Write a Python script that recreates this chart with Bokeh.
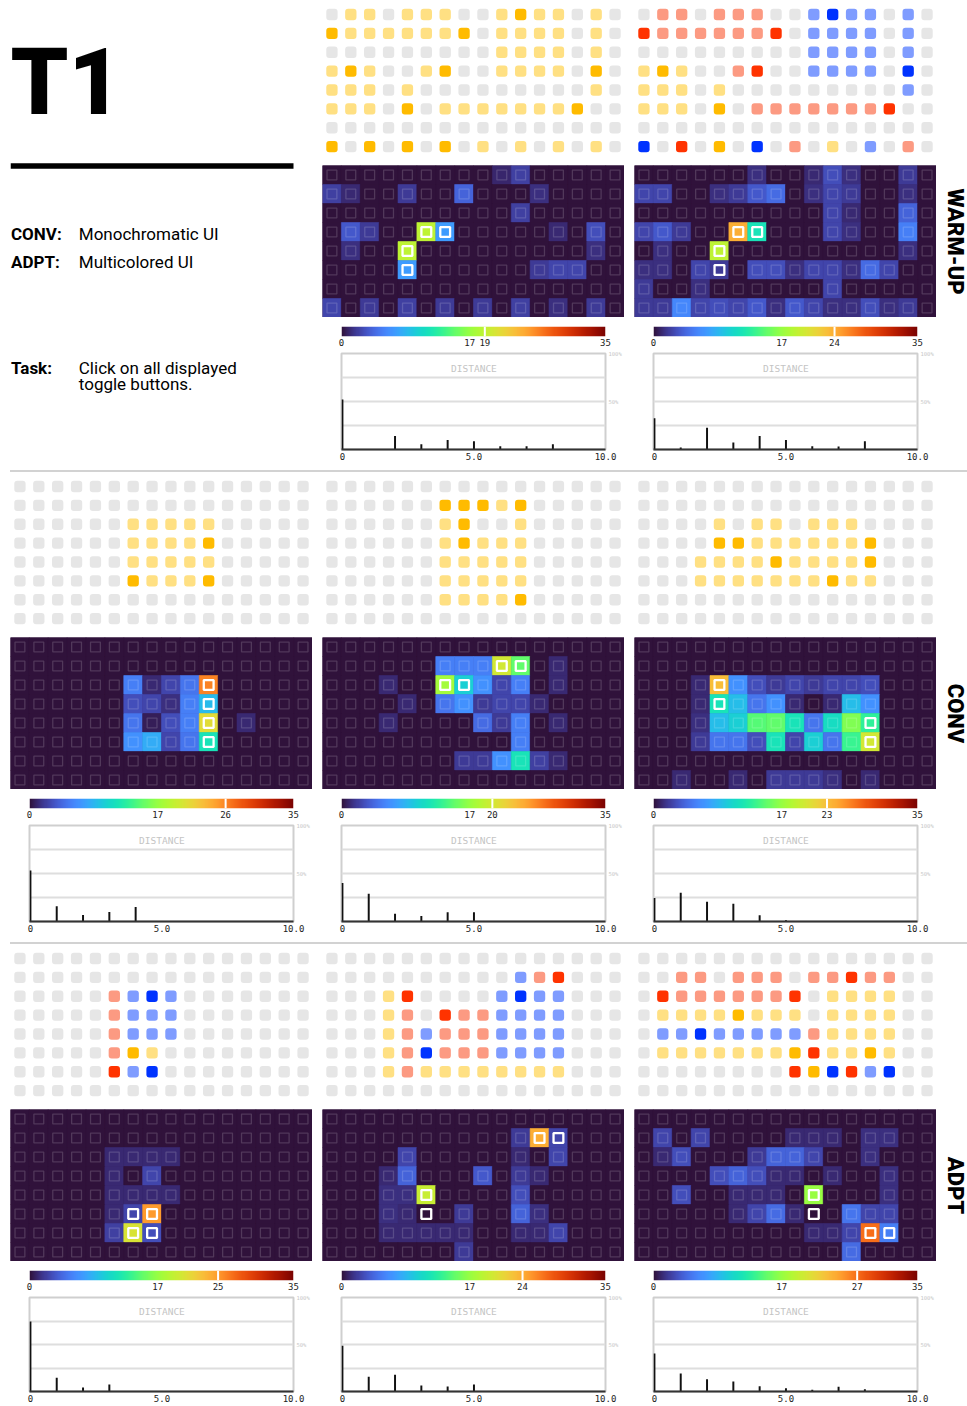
import numpy as np
from bokeh.plotting import figure
from bokeh.layouts import column, row
from bokeh.models import (Range1d, Spacer, LinearAxis, FixedTicker, Grid, Span, Label, Div,
                          LinearColorMapper, ColumnDataSource)
from bokeh.palettes import Turbo256
from bokeh.core.properties import value
from bokeh.embed import file_html
from bokeh.resources import INLINE

# ---------------------------------------------------------------- data
GRID_COLS = 16
GRID_ROWS = 8
SCALE_LOW, SCALE_HIGH, SCALE_MID = 0, 35, 17
DIST_TICKS = [0, 5, 10]
DIST_LABELS = {0: "0", 5: "5.0", 10: "10.0"}
PCT_TICKS = [50, 100]
PCT_LABELS = {50: "50%", 100: "100%"}
PCT_GRID = [25, 50, 75]
ROW_NAMES = ["WARM-UP", "CONV", "ADPT"]

STATE_COLORS = {"g": "#e6e6e6", "y": "#ffe083", "Y": "#ffbb00",
                "r": "#fc9a82", "R": "#ff3300", "b": "#7f9cff", "B": "#0033ff"}

# UI button states: one string per grid row, one letter per button
ui_warmup_conv = ["gyygyyyggyYyygyg", "YyyyyyyYgyyyygyg", "gggggggggyyyygyg", "yYyggyYggyyyygYg",
                  "yyygygggggggggyg", "yyygYgyyyyyyyYgg", "gggggggggggggggg", "YgYgYgYgygygygyg"]
ui_warmup_adpt = ["grrgrrrggbBbbgbg", "RrrrrrrRgbbbbgbg", "gggggggggbbbbgbg", "yYyggrRggbbbbgBg",
                  "yyygygggggggggbg", "yyygYgrrrrrrrRgg", "gggggggggggggggg", "BgRgYgBgrgygbgrg"]
ui_conv_1 = ["gggggggggggggggg", "gggggggggggggggg", "ggggggyyyyyggggg", "ggggggyyyyYggggg",
             "ggggggyyyyyggggg", "ggggggYyyyYggggg", "gggggggggggggggg", "gggggggggggggggg"]
ui_conv_2 = ["gggggggggggggggg", "ggggggYYYyYggggg", "ggggggyYggyggggg", "ggggggyYyyyggggg",
             "ggggggyyyyyggggg", "ggggggyyyyyggggg", "ggggggyyyyYggggg", "gggggggggggggggg"]
ui_conv_3 = ["gggggggggggggggg", "gggggggggggggggg", "ggggygyygyyygggg", "ggggYYyyyyyyYggg",
             "gggyyyyYyyyyYggg", "gggyyyyyyyYyyggg", "gggggggggggggggg", "gggggggggggggggg"]
ui_adpt_1 = ["gggggggggggggggg", "gggggggggggggggg", "gggggrbBbggggggg", "gggggrbbbggggggg",
             "gggggrbbbggggggg", "gggggrYygggggggg", "gggggRbBgggggggg", "gggggggggggggggg"]
ui_adpt_2 = ["gggggggggggggggg", "ggggggggggbrRggg", "gggyRggggbBbbggg", "gggyrgRrrbbbbggg",
             "gggyrbrrrbbbbggg", "gggyrBrrrbbbbggg", "gggyryyyyyyyyggg", "gggggggggggggggg"]
ui_adpt_3 = ["gggggggggggggggg", "ggrrgrrrgrrRrrgg", "gRrrrrrrRgyyyygg", "gyyyyYyyygyyyygg",
             "gbbBbbbbbryyyygg", "gyyyyyyyYRyyYygg", "ggggggggRYBRbBgg", "gggggggggggggggg"]

# click heat values (0..35) per button
Z = [0] * 16
heat_warmup_conv = [
    [0, 0, 0, 0, 0, 0, 0, 0, 0, 1, 2.2, 0, 0, 0, 0, 0],
    [2.2, 1.2, 0, 0, 2, 0, 0, 4, 0, 0, 0, 1.5, 0, 0, 0, 0],
    [0, 0, 0, 0, 0, 0, 0, 0, 0, 0, 2.2, 0, 0, 0, 0, 0],
    [0, 3.5, 2, 0, 0, 19, 7, 0, 0, 0, 0, 0, 1.2, 0, 3, 0],
    [0, 1.5, 0, 0, 19, 0, 0, 0, 0, 0, 0, 0, 0, 0, 1.5, 0],
    [0, 0, 0, 0, 7, 0, 0, 0, 0, 0, 0, 2, 2.5, 2.5, 0, 0],
    Z,
    [2.5, 0, 2, 0, 2.2, 0, 2, 0, 2, 0, 2.2, 0, 1.5, 0, 2, 0]]
heat_warmup_adpt = [
    [0, 0, 0, 0, 0, 0, 1.5, 0, 0, 1.2, 3, 1.5, 0, 0, 2, 0],
    [2.5, 2.5, 0, 0, 1.5, 2, 3.5, 4.5, 0, 1.5, 2.5, 2, 0, 0, 1.5, 0],
    [0, 0, 0, 0, 0, 0, 0, 0, 0, 0, 2.5, 1.2, 0, 0, 4, 0],
    [2.5, 3.5, 2, 0, 0, 24, 11.5, 0, 0, 0, 2.5, 1.5, 0, 0, 5.5, 0],
    [0, 1.5, 0, 0, 19, 0, 0, 0, 0, 0, 0, 0, 0, 0, 1.5, 0],
    [1.5, 1.5, 0, 2.5, 2, 0, 3, 3, 1.5, 2.5, 2.5, 1.5, 4.5, 2.5, 0, 0],
    [2, 0, 0, 1.5, 0, 0, 0, 0, 0, 0, 2.5, 0, 0, 0, 0, 0],
    [2, 2, 6, 2.5, 3, 2.5, 3.5, 1.5, 3.5, 2.5, 1.5, 1.5, 3, 1.5, 2, 0]]
heat_conv_1 = [
    Z, Z,
    [0, 0, 0, 0, 0, 0, 5.5, 1.2, 2.5, 5, 26, 0, 0, 0, 0, 0],
    [0, 0, 0, 0, 0, 0, 3, 2.5, 1.5, 5.5, 8.8, 0, 0, 0, 0, 0],
    [0, 0, 0, 0, 0, 0, 5, 0.6, 3, 5.5, 21, 0, 1.2, 0, 0, 0],
    [0, 0, 0, 0, 0, 0, 6.5, 8, 2.5, 5, 11.5, 0, 0, 0, 0, 0],
    Z, Z]
heat_conv_2 = [
    Z,
    [0, 0, 0, 0, 0, 0, 5.5, 5.5, 5.5, 20, 15, 0, 1.2, 0, 0, 0],
    [0, 0, 0, 1.2, 0, 0, 17.5, 10, 6.5, 2.5, 5.5, 0, 1.2, 0, 0, 0],
    [0, 0, 0, 0, 1.2, 0, 5, 6.5, 2, 2.5, 2.5, 1.2, 0, 0, 0, 0],
    [0, 0, 0, 1.2, 0, 0, 0, 0, 4.5, 2, 5.5, 0, 1.2, 0, 0, 0],
    [0, 0, 0, 0, 0, 0, 0, 0, 0, 0, 5.5, 0, 0, 0, 0, 0],
    [0, 0, 0, 0, 0, 0, 0, 2, 2, 6.5, 11.5, 2.2, 1.2, 0, 0, 0],
    Z]
heat_conv_3 = [
    Z, Z,
    [0, 0, 0, 1.2, 23, 6.5, 3, 2, 2.5, 2, 2.5, 2.5, 3, 0, 0, 0],
    [0, 0, 0, 1.2, 11.5, 9, 5, 6.5, 1.2, 0, 1.2, 9, 6.5, 0, 0, 0],
    [0, 0, 0, 1.5, 9, 10, 14.5, 15, 11.5, 5, 11, 16, 13, 0, 0, 0],
    [0, 0, 0, 2, 5, 5, 3, 11.5, 2.5, 10, 5, 13.5, 20, 0, 0, 0],
    Z,
    [0, 0, 1.2, 0, 0, 1.2, 0, 2, 2, 2, 1.5, 0, 1.2, 0, 0, 0]]
heat_adpt_1 = [
    Z, Z,
    [0, 0, 0, 0, 0, 1.2, 1.2, 1.2, 1.2, 0, 0, 0, 0, 0, 0, 0],
    [0, 0, 0, 0, 0, 1.2, 0, 2.5, 0, 0, 0, 0, 0, 0, 0, 0],
    [0, 0, 0, 0, 0, 1.2, 1.2, 1.2, 1.2, 0, 0, 0, 0, 0, 0, 0],
    [0, 0, 0, 0, 0, 1.2, 2.5, 25, 0, 0, 0, 0, 0, 0, 0, 0],
    [0, 0, 0, 0, 0, 2.2, 20.5, 3, 0, 0, 0, 0, 0, 0, 0, 0],
    Z]
heat_adpt_2 = [
    Z,
    [0, 0, 0, 0, 0, 0, 0, 0, 0, 0, 2, 24, 2.5, 0, 0, 0],
    [0, 0, 0, 0, 2.5, 0, 0, 0, 0, 0, 1.2, 0, 2.5, 0, 0, 0],
    [0, 0, 0, 1.2, 4, 0, 0, 0, 3.5, 0, 2, 1.2, 0, 0, 0, 0],
    [0, 0, 0, 1.5, 1.5, 19.5, 0, 0, 0, 0, 3, 0, 0, 0, 0, 0],
    [0, 0, 0, 1.5, 1.2, 0, 0, 2, 0, 0, 4, 1.5, 0, 0, 0, 0],
    [0, 0, 0, 1.2, 1.2, 1.2, 1.2, 1.2, 0, 0, 1.2, 1.2, 2.5, 0, 0, 0],
    [0, 0, 0, 0, 0, 0, 0, 2, 0, 0, 0, 0, 0, 0, 0, 0]]
heat_adpt_3 = [
    Z,
    [0, 2.5, 0, 2.5, 0, 0, 0, 0, 1.2, 1.2, 1.2, 0, 1.5, 1.5, 0, 0],
    [0, 1.2, 3, 0, 0, 0, 2, 4, 4, 2.5, 0, 0, 1.5, 0, 0, 0],
    [0, 0, 0, 0, 3, 4, 3, 1.2, 1.2, 0, 1.2, 0, 0, 1.5, 0, 0],
    [0, 0, 3, 0, 0, 1.2, 1.2, 1.2, 0, 17, 0, 0, 0, 1.5, 0, 0],
    [0, 0, 0, 0, 0, 1.2, 2.5, 4.5, 1.2, 0, 0, 5, 2.5, 2.5, 0, 0],
    [0, 0, 0, 0, 0, 0, 0, 0, 0, 1.2, 1.2, 2.5, 27, 5.5, 0, 0],
    [0, 0, 0, 0, 0, 0, 0, 0, 0, 0, 0, 4.5, 0, 0, 0, 0]]

# target toggle buttons (row, col)
targets_warmup_conv = [(3, 5), (3, 6), (4, 4), (5, 4)]
targets_warmup_adpt = [(3, 5), (3, 6), (4, 4), (5, 4)]
targets_conv_1 = [(2, 10), (3, 10), (4, 10), (5, 10)]
targets_conv_2 = [(1, 9), (1, 10), (2, 6), (2, 7)]
targets_conv_3 = [(2, 4), (3, 4), (4, 12), (5, 12)]
targets_adpt_1 = [(5, 6), (5, 7), (6, 6), (6, 7)]
targets_adpt_2 = [(1, 11), (1, 12), (4, 5), (5, 5)]
targets_adpt_3 = [(4, 9), (5, 9), (6, 12), (6, 13)]

# maximum heat value (marker on colour bar)
max_warmup_conv, max_warmup_adpt = 19, 24
max_conv_1, max_conv_2, max_conv_3 = 26, 20, 23
max_adpt_1, max_adpt_2, max_adpt_3 = 25, 24, 27

# click distance distribution (percent), distance = 0, 1, 2, ...
dist_warmup_conv = [52, 0, 14, 5.5, 10, 8.5, 3.5, 3.5, 5.5]
dist_warmup_adpt = [32.5, 2, 22.6, 7.4, 14, 9.9, 3.5, 3.2, 8.5]
dist_conv_1 = [53, 16, 6.7, 10, 15]
dist_conv_2 = [40, 29, 8, 5.7, 9.6, 9.6]
dist_conv_3 = [24.5, 30, 20.6, 18.4, 6.4, 1.4]
dist_adpt_1 = [74.5, 14.5, 4.3, 7.4]
dist_adpt_2 = [48.6, 15.6, 17.7, 6.4, 5.3, 7.4]
dist_adpt_3 = [40.4, 19.1, 13.1, 10.6, 5.7, 3.5, 1.8, 5, 2.5]

PANELS = [
    [None,
     (ui_warmup_conv, heat_warmup_conv, targets_warmup_conv, max_warmup_conv, dist_warmup_conv),
     (ui_warmup_adpt, heat_warmup_adpt, targets_warmup_adpt, max_warmup_adpt, dist_warmup_adpt)],
    [(ui_conv_1, heat_conv_1, targets_conv_1, max_conv_1, dist_conv_1),
     (ui_conv_2, heat_conv_2, targets_conv_2, max_conv_2, dist_conv_2),
     (ui_conv_3, heat_conv_3, targets_conv_3, max_conv_3, dist_conv_3)],
    [(ui_adpt_1, heat_adpt_1, targets_adpt_1, max_adpt_1, dist_adpt_1),
     (ui_adpt_2, heat_adpt_2, targets_adpt_2, max_adpt_2, dist_adpt_2),
     (ui_adpt_3, heat_adpt_3, targets_adpt_3, max_adpt_3, dist_adpt_3)],
]

# ---------------------------------------------------------------- styling
MONO = "DejaVu Sans Mono"
SANS = "Roboto"
PANEL_W = 302
CELL = PANEL_W / GRID_COLS
BG_DARK = Turbo256[0]
DOTS_H, HEAT_H, CBAR_H = 160, 152, 28
SEP_H = 7
mapper = LinearColorMapper(palette=Turbo256, low=SCALE_LOW, high=SCALE_HIGH)


def base(w, h, xr, yr, bg="white"):
    p = figure(width=w, height=h, x_range=xr, y_range=yr, x_axis_type=None, y_axis_type=None,
               toolbar_location=None, output_backend="svg", min_border=0, frame_align=False,
               outline_line_color=None, background_fill_color=bg, border_fill_color="white")
    return p


def dots_fig(states):
    xs, ys, cols = [], [], []
    for r, line in enumerate(states):
        for c, ch in enumerate(line):
            xs.append(c)
            ys.append(r)
            cols.append(STATE_COLORS[ch])
    half = 0.3
    src = ColumnDataSource(dict(left=[x - half for x in xs], right=[x + half for x in xs],
                                top=[y - half for y in ys], bottom=[y + half for y in ys], color=cols))
    r_top = -14.0 / CELL
    r_bot = r_top + DOTS_H / CELL
    p = base(PANEL_W, DOTS_H, Range1d(-0.5, GRID_COLS - 0.5), Range1d(r_bot, r_top))
    p.quad(left="left", right="right", top="top", bottom="bottom", source=src,
           fill_color="color", line_color=None, border_radius=3)
    return p


def heat_fig(grid, targets):
    xs, ys, vs, la, lw = [], [], [], [], []
    tset = set(targets)
    for r, line in enumerate(grid):
        for c, v in enumerate(line):
            xs.append(c)
            ys.append(r)
            vs.append(v)
            is_t = (r, c) in tset
            la.append(1.0 if is_t else 0.16)
            lw.append(2.3 if is_t else 1.3)
    src = ColumnDataSource(dict(x=xs, y=ys, v=vs, la=la, lw=lw))
    p = base(PANEL_W, HEAT_H, Range1d(-0.5, GRID_COLS - 0.5), Range1d(GRID_ROWS - 0.5, -0.5), bg=BG_DARK)
    cmap = {"field": "v", "transform": mapper}
    p.rect(x="x", y="y", width=1, height=1, source=src, fill_color=cmap, line_color=cmap, line_width=0.6)
    p.rect(x="x", y="y", width=0.52, height=0.52, source=src, fill_alpha=0,
           line_color="white", line_alpha="la", line_width="lw")
    return p


def axis_common(**kw):
    d = dict(major_tick_line_color=None, minor_tick_line_color=None,
             major_tick_out=0, major_tick_in=0, minor_tick_out=0, minor_tick_in=0,
             major_label_text_font=MONO)
    d.update(kw)
    return d


def cbar_fig(marker):
    p = base(PANEL_W, CBAR_H, Range1d(SCALE_LOW, SCALE_HIGH), Range1d(0, 1))
    p.min_border_left = 19
    p.min_border_right = 19
    p.min_border_top = 4
    p.min_border_bottom = 14
    grad = np.linspace(SCALE_LOW, SCALE_HIGH, 256).reshape(1, 256)
    p.image(image=[grad], x=SCALE_LOW, y=0, dw=SCALE_HIGH - SCALE_LOW, dh=1, color_mapper=mapper)
    p.add_layout(Span(location=marker, dimension="height", line_color="white", line_width=2))
    ax = LinearAxis(ticker=FixedTicker(ticks=[SCALE_LOW, SCALE_MID, marker, SCALE_HIGH]),
                    **axis_common(axis_line_color=None, major_label_standoff=2,
                                  major_label_text_font_size="9px",
                                  major_label_text_color="#222222"))
    p.add_layout(ax, "below")
    return p


def hist_fig(dist, bottom):
    p = base(PANEL_W, 96 + 3 + bottom, Range1d(-0.035, 10), Range1d(0, 100))
    p.min_border_left = 19
    p.min_border_right = 19
    p.min_border_top = 3
    p.min_border_bottom = bottom
    p.outline_line_color = "#cfcfcf"
    p.outline_line_width = 2
    p.add_layout(Grid(dimension=1, ticker=FixedTicker(ticks=PCT_GRID),
                      grid_line_color="#dedede", grid_line_width=2))
    p.add_layout(Label(x=5, y=84.7, text="DISTANCE", text_align="center", text_baseline="middle",
                       text_font=MONO, text_font_size="9.5px", text_color="#c4c4c4"))
    p.vbar(x=list(range(len(dist))), top=dist, width=0.075, fill_color="#111111", line_color=None)
    ax = LinearAxis(ticker=FixedTicker(ticks=DIST_TICKS), major_label_overrides=DIST_LABELS,
                    **axis_common(axis_line_color="#333333", axis_line_width=2,
                                  major_label_standoff=3, major_label_text_font_size="9px",
                                  major_label_text_color="#222222"))
    p.add_layout(ax, "below")
    ay = LinearAxis(ticker=FixedTicker(ticks=PCT_TICKS), major_label_overrides=PCT_LABELS,
                    **axis_common(axis_line_color=None, major_label_standoff=3,
                                  major_label_text_font_size="5.5px",
                                  major_label_text_color="#c8c8c8"))
    p.add_layout(ay, "right")
    return p


def text_panel(h):
    p = base(PANEL_W, h, Range1d(0, PANEL_W), Range1d(h, 0))
    p.text(x=[0], y=[82], text=["T1"], text_font=value("Roboto Black"), text_font_style="bold",
           text_font_size="92px", text_color="black", text_baseline="alphabetic")
    p.quad(left=[0], right=[283], top=[162.7], bottom=[168.3], fill_color="black", line_color=None)
    bold = dict(text_font=value(SANS), text_font_style="bold", text_font_size="17px",
                text_color="black", text_baseline="alphabetic")
    reg = dict(text_font=value(SANS), text_font_size="17px", text_color="black",
               text_baseline="alphabetic")
    p.text(x=[0.5, 0.5, 0.5], y=[233, 261, 367.5], text=["CONV:", "ADPT:", "Task:"], **bold)
    p.text(x=[68.3, 68.3, 68.3, 68.3], y=[233, 261, 367.5, 383.5],
           text=["Monochromatic UI", "Multicolored UI", "Click on all displayed", "toggle buttons."], **reg)
    return p


def label_fig(name, h):
    p = base(31, h, Range1d(0, 31), Range1d(h, 0))
    p.text(x=[19], y=[DOTS_H + 5 + HEAT_H / 2], text=[name], angle=-np.pi / 2, text_align="center",
           text_baseline="middle", text_font=value("Roboto Black"), text_font_style="bold",
           text_font_size="22px", text_color="black")
    return p


def separator():
    line = Div(text="", width=957, height=2, margin=(0, 0, 0, 0),
               styles={"background-color": "#d2d2d2", "padding": "0px", "overflow": "hidden"})
    return row(Spacer(width=10, height=SEP_H, margin=(0, 0, 0, 0)),
               column(Spacer(width=957, height=SEP_H - 2, margin=(0, 0, 0, 0)), line))


blocks = []
for ri in range(3):
    last = ri == 2
    hb = 11 if last else 16
    block_h = DOTS_H + 5 + HEAT_H + 5 + CBAR_H + 96 + 3 + hb
    kids = [Spacer(width=10, height=block_h)]
    for ci in range(3):
        spec = PANELS[ri][ci]
        if spec is None:
            kids.append(text_panel(block_h))
        else:
            ui, heat, tg, mx, dist = spec
            kids.append(column(dots_fig(ui), Spacer(width=PANEL_W, height=5), heat_fig(heat, tg),
                               Spacer(width=PANEL_W, height=5), cbar_fig(mx), hist_fig(dist, hb)))
        if ci < 2:
            kids.append(Spacer(width=10, height=block_h))
    kids.append(label_fig(ROW_NAMES[ri], block_h))
    blocks.append(row(*kids))
    if not last:
        blocks.append(separator())

root = column(*blocks)
open("out.html", "w").write(file_html(root, INLINE))
